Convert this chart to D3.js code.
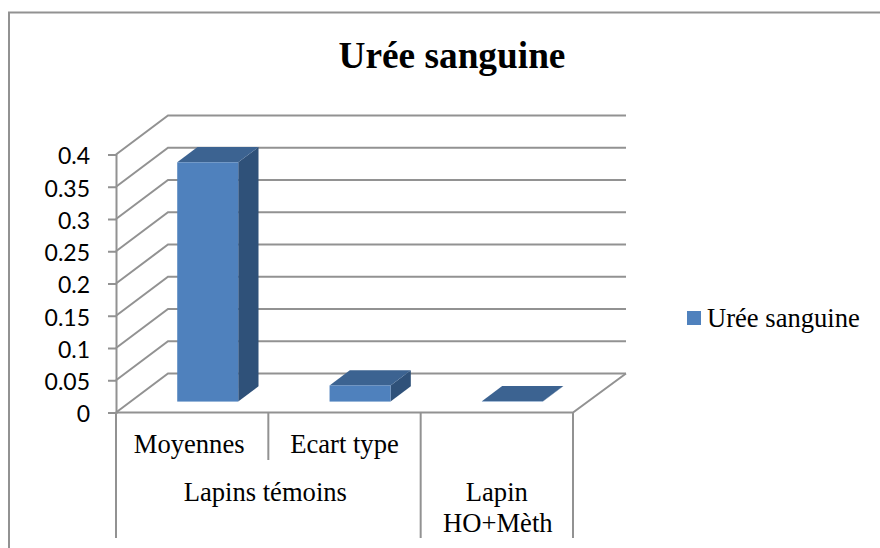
<!DOCTYPE html>
<html>
<head>
<meta charset="utf-8">
<script src="https://cdn.jsdelivr.net/npm/d3@7"></script>
<style>
  html, body { margin: 0; padding: 0; background: #fff; overflow: hidden; }
  svg { display: block; }
</style>
</head>
<body>
<div id="chart"></div>
<script>
    // Data
    var categories = ["Moyennes", "Ecart type", "Lapin HO+Mèth"];
    var groupLabels = ["Lapins témoins"];
    var values = [0.371, 0.025, 0.0005];
    var yTicks = [0, 0.05, 0.1, 0.15, 0.2, 0.25, 0.3, 0.35, 0.4];
    var seriesName = "Urée sanguine";
    var chartTitle = "Urée sanguine";

    var grey = "#929292",
        frontColor = "#4f81bd",
        topColor = "#3c6391",
        sideColor = "#2f5179";

    // Floor front edge and the offset of the back wall
    var x0 = 116, x1 = 573, yBottom = 412.5, yTop = 154.5;
    var depthX = 52, depthY = -39;

    var svg = d3.select("#chart").append("svg")
        .attr("width", 880)
        .attr("height", 548);

    // Chart frame, the right side is cut off in the picture
    svg.append("path")
        .attr("d", "M9,548V12.5H880")
        .attr("fill", "none")
        .attr("stroke", grey)
        .attr("stroke-width", 2);

    var y = d3.scaleLinear().domain([0, 0.4]).range([yBottom, yTop]);
    var x = d3.scaleBand().domain(categories).range([x0, x1]);

    // Title
    svg.append("text")
        .attr("x", 452)
        .attr("y", 68)
        .attr("text-anchor", "middle")
        .attr("font-family", "'Liberation Serif'")
        .attr("font-weight", "bold")
        .attr("font-size", "37.3px")
        .attr("fill", "#000")
        .text(chartTitle);

    // Gridlines on the side wall and the back wall
    var grid = svg.append("g").attr("fill", "none").attr("stroke", grey).attr("stroke-width", 2);
    yTicks.forEach(function(t) {
        grid.append("path")
            .attr("d", d3.line()([
                [x0, y(t)],
                [x0 + depthX, y(t) + depthY],
                [x1 + depthX + 1, y(t) + depthY]
            ]));
    });
    // Floor front to back on the right
    grid.append("path")
        .attr("d", d3.line()([[x0, yBottom], [x1, yBottom], [x1 + depthX + 1, yBottom + depthY]]));

    // Y axis
    var yAxis = svg.append("g")
        .attr("transform", "translate(" + x0 + ",0)")
        .call(d3.axisLeft(y).tickValues(yTicks).tickSize(8).tickPadding(18).tickFormat(function(d) { return String(d); }));
    yAxis.selectAll("line, path").attr("stroke", grey).attr("stroke-width", 2);
    yAxis.selectAll("text")
        .attr("font-family", "Lato")
        .attr("font-size", "23px")
        .attr("y", 2)
        .attr("fill", "#000");

    // Bars: front face, top face, side face
    var barWidth = 61, barFront = 0.28, barDepth = 0.39;
    var barLeft = function(d) { return x(d) + x.bandwidth() / 2 - barWidth / 2 + barFront * depthX + 1; };
    var barValue = function(i) { return y(values[i]) + barFront * depthY; };
    var floorY = yBottom + barFront * depthY;

    var bars = svg.append("g").selectAll("g")
        .data(categories)
        .enter().append("g");

    bars.append("path")
        .attr("fill", sideColor)
        .attr("d", function(d, i) {
            var r = barLeft(d) + barWidth, t = barValue(i);
            return d3.line()([[r, floorY], [r, t], [r + barDepth * depthX, t + barDepth * depthY], [r + barDepth * depthX, floorY + barDepth * depthY]]) + "Z";
        });
    bars.append("path")
        .attr("fill", topColor)
        .attr("d", function(d, i) {
            var l = barLeft(d), t = barValue(i);
            return d3.line()([[l, t], [l + barWidth, t], [l + barWidth + barDepth * depthX, t + barDepth * depthY], [l + barDepth * depthX, t + barDepth * depthY]]) + "Z";
        });
    bars.append("rect")
        .attr("x", barLeft)
        .attr("y", function(d, i) { return barValue(i); })
        .attr("width", barWidth)
        .attr("height", function(d, i) { return floorY - barValue(i); })
        .attr("fill", frontColor);

    // Multi level category axis
    var bandEdge = function(i) { return x0 + i * x.bandwidth(); };
    var seps = svg.append("g").attr("stroke", grey).attr("stroke-width", 2);
    [[0, 538], [1, 460], [2, 538], [3, 538]].forEach(function(s) {
        seps.append("line")
            .attr("x1", bandEdge(s[0])).attr("x2", bandEdge(s[0]))
            .attr("y1", yBottom).attr("y2", s[1]);
    });

    var labelStyle = function(sel) {
        sel.attr("text-anchor", "middle")
            .attr("font-family", "'Liberation Serif'")
            .attr("font-size", "26.6px")
            .attr("fill", "#000");
    };
    svg.append("text").attr("x", bandEdge(0.5) - 3).attr("y", 453).call(labelStyle).text(categories[0]);
    svg.append("text").attr("x", bandEdge(1.5)).attr("y", 453).call(labelStyle).text(categories[1]);
    svg.append("text").attr("x", bandEdge(1) - 3).attr("y", 501).call(labelStyle).text(groupLabels[0]);
    svg.append("text").attr("x", bandEdge(2.5)).attr("y", 501).call(labelStyle).text("Lapin");
    svg.append("text").attr("x", bandEdge(2.5) + 1).attr("y", 532).call(labelStyle).text("HO+Mèth");

    // Legend
    svg.append("rect")
        .attr("x", 687).attr("y", 311)
        .attr("width", 14).attr("height", 14)
        .attr("fill", frontColor);
    svg.append("text")
        .attr("x", 707).attr("y", 327)
        .attr("font-family", "'Liberation Serif'")
        .attr("font-size", "26.6px")
        .attr("fill", "#000")
        .text(seriesName);
</script>
</body>
</html>
